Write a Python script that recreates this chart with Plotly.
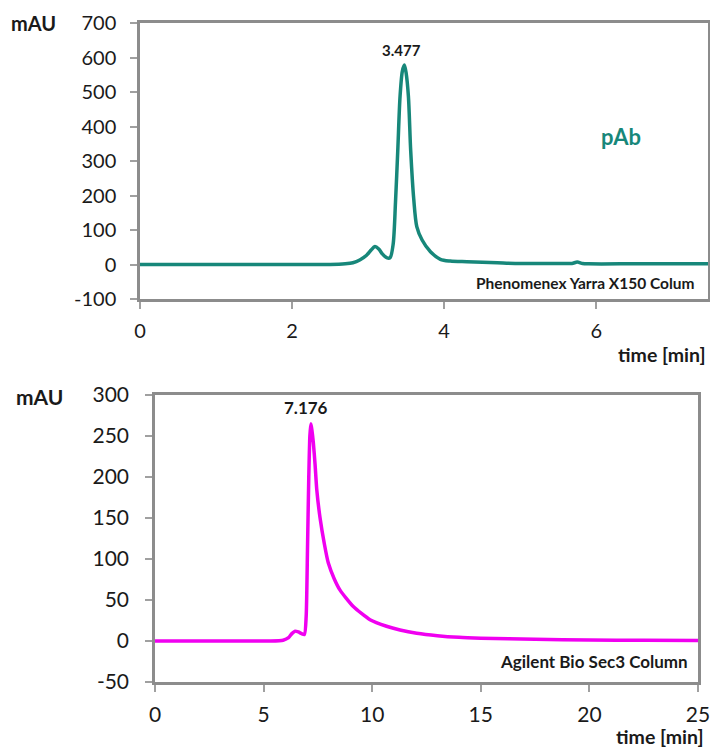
import plotly.graph_objects as go

# ---- Top chromatogram (Phenomenex Yarra X150) ----
top_time = [0.0, 0.5, 1.0, 1.5, 2.0, 2.5, 2.7, 2.8, 2.89, 2.98, 3.04, 3.09, 3.14, 3.19, 3.25, 3.29,
            3.33, 3.36, 3.39, 3.42, 3.45, 3.477, 3.50, 3.53, 3.56, 3.60, 3.64, 3.71, 3.82, 3.95,
            4.08, 4.3, 4.7, 5.0, 5.5, 5.68, 5.75, 5.82, 5.9, 6.5, 7.0, 7.47]
top_mau = [0, 0, 0, 0, 0, 0, 2, 5, 13, 27, 42, 52, 45, 30, 19, 20,
           60, 180, 330, 487, 560, 578, 555, 487, 330, 190, 110, 71, 37, 15,
           10, 8, 5, 3, 3, 3, 7, 3, 2, 2, 2, 2]
top_peak_time = 3.477
top_peak_label = "3.477"
top_xticks = [0, 2, 4, 6]
top_yticks = [-100, 0, 100, 200, 300, 400, 500, 600, 700]
top_yticktext = ["-100", "0", "100", "200", "300", "400", "500", "600", "700"]

# ---- Bottom chromatogram (Agilent Bio Sec3) ----
bot_time = [0.0, 2.0, 4.0, 5.3, 5.9, 6.15, 6.3, 6.45, 6.6, 6.75, 6.88, 6.96, 7.02, 7.08,
            7.13, 7.176, 7.22, 7.29, 7.37, 7.45, 7.6, 7.8, 7.98, 8.25, 8.52, 9.13, 9.9, 10.66,
            11.28, 12.05, 13.0, 14.0, 15.0, 17.5, 20.0, 22.5, 25.0]
bot_mau = [0, 0, 0, 0, 1, 4, 9, 12, 11, 9, 8, 30, 110, 200,
           250, 265, 258, 242, 215, 184, 150, 118, 95, 76, 62, 42, 26, 18,
           13.5, 9.5, 6.5, 4.5, 3.5, 2, 1.2, 0.8, 0.5]
bot_peak_time = 7.176
bot_peak_label = "7.176"
bot_xticks = [0, 5, 10, 15, 20, 25]
bot_yticks = [-50, 0, 50, 100, 150, 200, 250, 300]
bot_yticktext = ["-50", "0", "50", "100", "150", "200", "250", "300"]

TEAL = "#17877a"
MAGENTA = "#f000f0"
AXIS_GRAY = "#8c8c8c"
FONT = "Lato"

W, H = 710, 751
def px(x):
    return x / W
def py(y):
    return 1 - y / H

fig = go.Figure()
fig.add_trace(go.Scatter(x=top_time, y=top_mau, mode="lines",
                         line=dict(color=TEAL, width=3.5, shape="spline", smoothing=0.8),
                         xaxis="x", yaxis="y", showlegend=False))
fig.add_trace(go.Scatter(x=bot_time, y=bot_mau, mode="lines",
                         line=dict(color=MAGENTA, width=3.5, shape="spline", smoothing=0.6),
                         xaxis="x2", yaxis="y2", showlegend=False))

def axis_common(size, standoff):
    return dict(showline=True, linecolor=AXIS_GRAY, linewidth=2.5, mirror=True,
                ticks="outside", ticklen=7, tickwidth=1.5, tickcolor="#a0a0a0",
                showgrid=False, zeroline=False, ticklabelstandoff=standoff,
                automargin=False, ticklabeloverflow="allow",
                tickfont=dict(family=FONT, size=size, color="#1a1a1a"))

fig.update_layout(
    width=W, height=H, margin=dict(l=0, r=0, t=0, b=0, autoexpand=False),
    paper_bgcolor="white", plot_bgcolor="white",
    xaxis=dict(domain=[px(140), px(708)], range=[0, 7.47], tickvals=top_xticks,
               anchor="y", **axis_common(20, 5)),
    yaxis=dict(domain=[py(299), py(23)], range=[-100, 700], tickvals=top_yticks,
               ticktext=top_yticktext, anchor="x", **axis_common(20, 10)),
    xaxis2=dict(domain=[px(155), px(698)], range=[0, 25], tickvals=bot_xticks,
                anchor="y2", **axis_common(21, 5)),
    yaxis2=dict(domain=[py(682), py(395)], range=[-50, 300], tickvals=bot_yticks,
                ticktext=bot_yticktext, anchor="x2", **axis_common(21, 12)),
)

ann = []
def label(text, x, y, size, color="#1a1a1a", xanchor="center", bold=True):
    ann.append(dict(text=text, x=px(x), y=py(y), xref="paper", yref="paper",
                    xanchor=xanchor, yanchor="middle", showarrow=False,
                    font=dict(family=FONT, size=size, color=color,
                              weight="bold" if bold else "normal")))

label("mAU", 33, 23, 20)
label("mAU", 39, 396, 21)
label("time [min]", 708, 354, 19.5, xanchor="right")
label("time [min]", 706, 736, 19.5, xanchor="right")
label("pAb", 621, 136, 22, color=TEAL)
label("Phenomenex Yarra X150 Colum", 697, 283, 15.5, xanchor="right")
label("Agilent Bio Sec3 Column", 690, 661, 17, xanchor="right")

ann.append(dict(text=top_peak_label, x=top_peak_time, y=max(top_mau), xref="x", yref="y",
                xanchor="center", yanchor="bottom", yshift=4, xshift=-3, showarrow=False,
                font=dict(family=FONT, size=15, color="#1a1a1a", weight="bold")))
ann.append(dict(text=bot_peak_label, x=bot_peak_time, y=max(bot_mau), xref="x2", yref="y2",
                xanchor="center", yanchor="bottom", yshift=4, xshift=-5, showarrow=False,
                font=dict(family=FONT, size=17, color="#1a1a1a", weight="bold")))
fig.update_layout(annotations=ann)

fig.write_html("out.html")
